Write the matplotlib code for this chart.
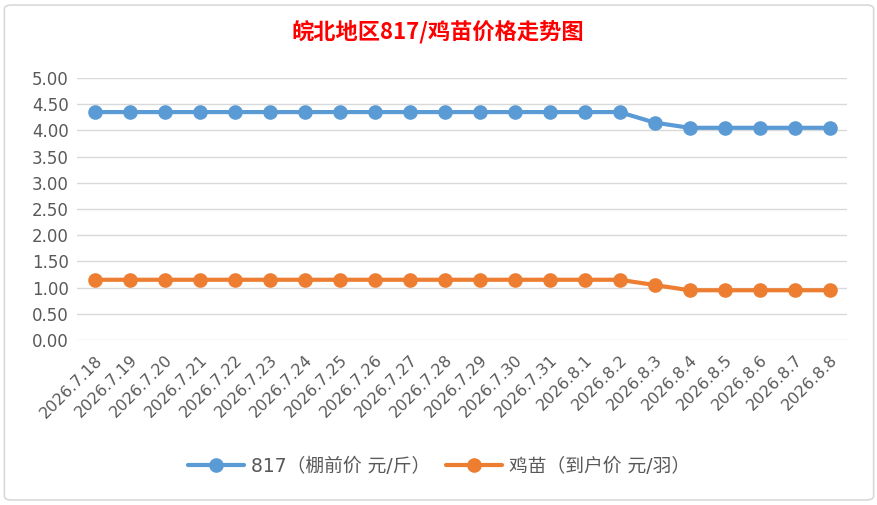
import matplotlib.pyplot as plt
from matplotlib.patches import FancyBboxPatch

# 数据
dates = ['2026.7.18', '2026.7.19', '2026.7.20', '2026.7.21', '2026.7.22', '2026.7.23',
         '2026.7.24', '2026.7.25', '2026.7.26', '2026.7.27', '2026.7.28', '2026.7.29',
         '2026.7.30', '2026.7.31', '2026.8.1', '2026.8.2', '2026.8.3', '2026.8.4',
         '2026.8.5', '2026.8.6', '2026.8.7', '2026.8.8']
price_817 = [4.35] * 16 + [4.15, 4.05, 4.05, 4.05, 4.05, 4.05]
price_chick = [1.15] * 16 + [1.05, 0.95, 0.95, 0.95, 0.95, 0.95]
y_ticks = [0.0, 0.5, 1.0, 1.5, 2.0, 2.5, 3.0, 3.5, 4.0, 4.5, 5.0]

label_817 = '817（棚前价 元/斤）'
label_chick = '鸡苗（到户价 元/羽）'
title = '皖北地区817/鸡苗价格走势图'

plt.rcParams['font.family'] = ['DejaVu Sans', 'Noto Sans CJK SC']


def draw_graph():
    fig = plt.figure(figsize=(8.78, 5.05), dpi=100)
    ax = fig.add_axes([0.0877, 0.3267, 0.8770, 0.5188])

    x = list(range(len(dates)))
    ax.plot(x, price_817, color='#5B9BD5', lw=3, marker='o', ms=9.5,
            label=label_817, solid_capstyle='round')
    ax.plot(x, price_chick, color='#ED7D31', lw=3, marker='o', ms=9.5,
            label=label_chick, solid_capstyle='round')

    ax.set_xlim(-0.5, len(dates) - 0.5)
    ax.set_ylim(0, 5)
    ax.set_yticks(y_ticks)
    ax.set_yticklabels([f'{v:.2f}' for v in y_ticks], fontsize=12, color='#595959')
    ax.set_xticks(x)
    ax.set_xticklabels(dates, rotation=45, ha='right', rotation_mode='anchor',
                       fontsize=11.5, color='#595959')
    ax.tick_params(length=0, pad=6)
    ax.tick_params(axis='x', pad=9)
    ax.grid(axis='y', color='#D9D9D9', lw=1)
    ax.set_axisbelow(True)
    for s in ax.spines.values():
        s.set_visible(False)

    fig.text(0.499, 0.937, title, ha='center', va='center', fontsize=16,
             fontweight='bold', color='#FF0000', family=['Noto Sans CJK SC'])

    leg = fig.legend(loc='center', bbox_to_anchor=(0.5, 0.077), ncol=2, frameon=False,
                     prop={'family': ['DejaVu Sans', 'Noto Sans CJK SC'], 'size': 13.5},
                     handlelength=3.0, columnspacing=0.8, handletextpad=0.4)
    for t in leg.get_texts():
        t.set_color('#595959')

    border = FancyBboxPatch((0.005, 0.01), 0.99, 0.98, boxstyle='round,pad=0,rounding_size=0.008',
                            transform=fig.transFigure, fill=False, ec='#D9D9D9', lw=1.2)
    fig.patches.append(border)

    fig.savefig('out.png', dpi=100)


def main():
    draw_graph()


if __name__ == '__main__':
    main()
